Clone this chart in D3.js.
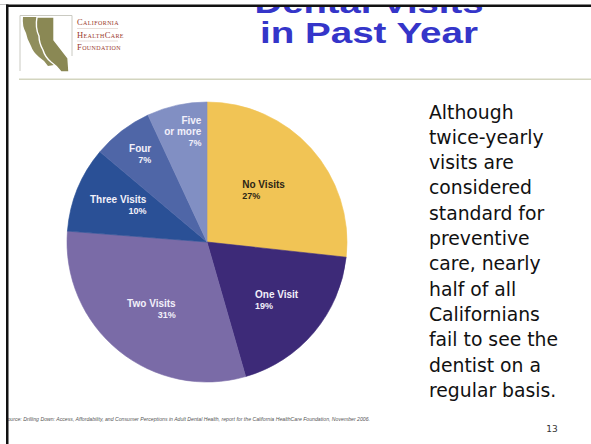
<!DOCTYPE html>
<html>
<head>
<meta charset="utf-8">
<script src="https://cdn.jsdelivr.net/npm/d3@7"></script>
<style>
  html, body { margin: 0; padding: 0; background: #fff; }
  svg { display: block; }
</style>
</head>
<body>
<svg id="slide" width="591" height="444"></svg>
<script>
// Number of dental visits in the past year (share of California adults, %)
const categories = ["No Visits", "One Visit", "Two Visits", "Three Visits", "Four", "Five or more"];
const shares = [27, 19, 31, 10, 7, 7];
const labelLines = [["No Visits"], ["One Visit"], ["Two Visits"], ["Three Visits"], ["Four"], ["Five", "or more"]];
const sliceColors = ["#F1C455", "#3D2A78", "#7A6BA7", "#2A5096", "#4F66A7", "#818FC3"];
const titleLines = ["Dental Visits", "in Past Year"];
const bodyLines = ["Although", "twice-yearly", "visits are", "considered", "standard for", "preventive",
  "care, nearly", "half of all", "Californians", "fail to see the", "dentist on a", "regular basis."];
const sourceNote = "Source: Drilling Down: Access, Affordability, and Consumer Perceptions in Adult Dental Health, report for the California HealthCare Foundation, November 2006.";
const pageNumber = "13";

const svg = d3.select("#slide");

// ---- title (top line runs under the frame edge) ----
svg.append("defs").append("clipPath").attr("id", "titleClip")
  .append("rect").attr("x", 0).attr("y", 7).attr("width", 591).attr("height", 60);

const title = svg.append("g").attr("clip-path", "url(#titleClip)");
title.selectAll("text").data(titleLines).join("text")
  .attr("x", 369)
  .attr("y", (d, i) => 12.5 + i * 30.5)
  .attr("text-anchor", "middle")
  .attr("font-family", "Liberation Sans, Arial, sans-serif")
  .attr("font-weight", "bold")
  .attr("font-size", 30)
  .attr("fill", "#3535C9")
  .attr("textLength", (d, i) => i === 0 ? 229 : 218)
  .attr("lengthAdjust", "spacingAndGlyphs")
  .text(d => d);

// separator under header
svg.append("rect").attr("x", 19).attr("y", 78.5).attr("width", 572).attr("height", 1.5).attr("fill", "#D3D5BF");

// ---- logo ----
const logo = svg.append("g");
logo.append("path")
  .attr("d", "M20,71 L20,15.5 L72,15.5 L72,56")
  .attr("fill", "none").attr("stroke", "#CACAC2").attr("stroke-width", 1);
logo.append("path")
  .attr("d", "M23,17 L39,17 L39,38 L53,56 L54,65 L48,66 Q44,60 39,57 Q33,52 31,46 Q27,39 26,33 Q22,26 23,17 Z")
  .attr("fill", "#908E5C");
logo.append("path")
  .attr("d", "M37,17 L54,17 L54,40 L68,58 L69,72 L61,72 Q57,66 51,62 Q45,57 43,50 Q39,43 39,36 Q35,28 37,17 Z")
  .attr("fill", "#8A8854").attr("stroke", "#fff").attr("stroke-width", 1.4);
const logoText = ["California", "HealthCare", "Foundation"];
logo.selectAll("text.logo").data(logoText).join("text")
  .attr("class", "logo")
  .attr("x", 77)
  .attr("y", (d, i) => 25 + i * 12.5)
  .attr("font-family", "Liberation Serif, serif")
  .attr("font-variant", "small-caps")
  .attr("font-size", 8.5)
  .attr("letter-spacing", 0.4)
  .attr("fill", "#9B3A2C")
  .text(d => d);
logo.selectAll("line").data([28.5, 41]).join("line")
  .attr("x1", 77).attr("x2", 118).attr("y1", d => d).attr("y2", d => d)
  .attr("stroke", "#D8C8C0").attr("stroke-width", 0.6);

// ---- pie ----
const cx = 207, cy = 242, radius = 140;
const pie = d3.pie().sort(null).value(d => d.value);
const arcs = pie(categories.map((c, i) => ({ name: c, value: shares[i], lines: labelLines[i], color: sliceColors[i] })));
const arc = d3.arc().innerRadius(0).outerRadius(radius);

const pieG = svg.append("g").attr("transform", `translate(${cx},${cy})`);
pieG.selectAll("path").data(arcs).join("path")
  .attr("d", arc)
  .attr("fill", d => d.data.color)
  .attr("stroke", d => d.data.color)
  .attr("stroke-width", 0.6);

// label placement: distance of each label block from the centre, and alignment
const labelRadius = [76, 91, 88, 96, 110, 112];
const labelAlign = ["start", "start", "end", "end", "end", "end"];
const labelInk = ["#2E2616", "#F2F0FA", "#F2F0FA", "#F2F0FA", "#F2F0FA", "#F2F0FA"];

arcs.forEach((d, i) => {
  const mid = (d.startAngle + d.endAngle) / 2;
  const px = labelRadius[i] * Math.sin(mid);
  const py = -labelRadius[i] * Math.cos(mid);
  const lines = d.data.lines.concat([d.data.value + "%"]);
  const g = pieG.append("g");
  const texts = g.selectAll("text").data(lines).join("text")
    .attr("font-family", "Liberation Sans, Arial, sans-serif")
    .attr("font-weight", "bold")
    .attr("font-size", (t, j) => j === lines.length - 1 ? 9 : 10)
    .attr("fill", labelInk[i])
    .attr("text-anchor", labelAlign[i])
    .text(t => t);
  let w = 0;
  texts.each(function () { w = Math.max(w, this.getComputedTextLength()); });
  const lineH = 11;
  const top = py - (lines.length * lineH) / 2 + 8;
  const x = labelAlign[i] === "start" ? px - w / 2 : px + w / 2;
  texts.attr("x", x).attr("y", (t, j) => top + j * lineH);
});

// ---- body text ----
svg.append("g").selectAll("text").data(bodyLines).join("text")
  .attr("x", 429)
  .attr("y", (d, i) => 118.5 + i * 25.3)
  .attr("font-family", "DejaVu Sans, Verdana, sans-serif")
  .attr("font-size", 18.8)
  .attr("fill", "#111")
  .text(d => d);

// ---- footer ----
svg.append("text")
  .attr("x", 4).attr("y", 421)
  .attr("font-family", "Liberation Sans, Arial, sans-serif")
  .attr("font-style", "italic")
  .attr("font-size", 5)
  .attr("fill", "#555")
  .attr("textLength", 366)
  .attr("lengthAdjust", "spacingAndGlyphs")
  .text(sourceNote);

svg.append("text")
  .attr("x", 552).attr("y", 432)
  .attr("text-anchor", "middle")
  .attr("font-family", "DejaVu Sans, Verdana, sans-serif")
  .attr("font-size", 9)
  .attr("fill", "#333")
  .text(pageNumber);

// ---- frame edges, drawn on top ----
svg.append("rect").attr("x", 0).attr("y", 0).attr("width", 591).attr("height", 4.5).attr("fill", "#fff");
svg.append("rect").attr("x", 0).attr("y", 4.5).attr("width", 591).attr("height", 2.5).attr("fill", "#111");
svg.append("rect").attr("x", 0).attr("y", 4.5).attr("width", 6).attr("height", 440).attr("fill", "#fff");
svg.append("rect").attr("x", 6).attr("y", 4.5).attr("width", 2.5).attr("height", 440).attr("fill", "#111");
</script>
</body>
</html>
